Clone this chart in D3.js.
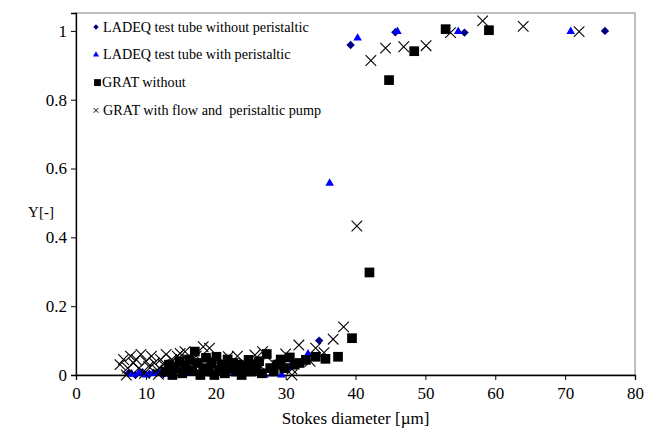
<!DOCTYPE html>
<html>
<head>
<meta charset="utf-8">
<script src="https://cdn.jsdelivr.net/npm/d3@7"></script>
<style>
  body { margin: 0; background: #fff; }
  svg text { font-family: "Liberation Serif", "DejaVu Serif", serif !important; fill: #000; }
</style>
</head>
<body>
<div id="chart"></div>
<script>
// series: [Stokes diameter, Y]
var ladeqWithout = [
  [7.5,0.005],[8.5,0.0],[9.5,0.008],[10.5,0.003],[11.5,0.006],[12.5,0.002],[13.5,0.008],
  [15,0.01],[17,0.012],[19,0.008],[21,0.005],[23,0.01],[24.4,0.01],[26,0.012],[28,0.015],
  [30.6,0.024],[31.3,0.034],[32.5,0.04],[34.8,0.10],[39.3,0.959],[45.7,0.996],[55.6,0.995],[75.7,1.0]
];
var ladeqWith = [
  [8,0.002],[9,0.006],[10,0.0],[11,0.004],[12,0.008],[13,0.003],[14,0.005],[16,0.004],
  [18,0.006],[20,0.004],[22,0.008],[24,0.01],[25.5,0.015],[27,0.0],[29.4,0.0],[31,0.025],
  [33.2,0.061],[36.3,0.557],[40.3,0.979],[46,0.998],[54.7,0.998],[70.8,0.998]
];
var gratWithout = [
  [12.8,0.01],[13.3,0.03],[13.8,0.0],[14.3,0.02],[14.8,0.04],[15.2,0.005],[15.7,0.025],[16.2,0.045],
  [16.6,0.012],[17,0.068],[17.4,0.035],[17.8,0.0],[18.2,0.02],[18.6,0.05],[19,0.01],[19.4,0.035],
  [19.8,0.0],[20.1,0.053],[20.5,0.015],[20.9,0.03],[21.3,0.005],[21.7,0.045],[22.1,0.02],[22.5,0.035],
  [22.9,0.01],[23.3,0.03],[23.7,0.0],[24.1,0.025],[24.7,0.044],[25,0.01],[25.4,0.03],[25.8,0.015],
  [26.2,0.04],[26.6,0.005],[27.3,0.061],[27.8,0.02],[28.3,0.01],[28.8,0.03],[29.3,0.045],[29.8,0.02],
  [30.6,0.051],[31.3,0.03],[32,0.035],[32.9,0.044],[34.3,0.053],[35.7,0.047],[37.5,0.053],
  [39.5,0.107],[42,0.298],[44.8,0.857],[48.4,0.941],[52.9,1.005],[59.1,1.002]
];
var gratFlow = [
  [6.3,0.03],[6.8,0.045],[7.2,0.0],[7.4,0.02],[7.8,0.055],[8.2,0.035],[8.6,0.045],[9,0.02],
  [9.3,0.06],[9.8,0.005],[10,0.04],[10.4,0.025],[10.8,0.055],[11.2,0.035],[11.6,0.015],[11.8,0.002],
  [12.1,0.045],[12.5,0.03],[12.9,0.06],[13.3,0.02],[13.7,0.045],[14.1,0.03],[14.5,0.055],[14.9,0.063],
  [15.3,0.035],[15.6,0.068],[16,0.045],[16.6,0.03],[17.2,0.055],[18.2,0.082],[19.1,0.078],[19.6,0.045],
  [20.4,0.03],[21,0.04],[21.8,0.053],[22.4,0.03],[23.1,0.055],[24,0.035],[25.6,0.058],[26.2,0.03],
  [26.7,0.068],[28.2,0.036],[29,0.02],[30,0.061],[30.9,0.017],[30.9,0.0],[31.9,0.087],[33.5,0.04],
  [34.3,0.078],[35.5,0.065],[36.8,0.104],[38.3,0.14],[40.2,0.433],[42.2,0.914],[44.3,0.95],
  [46.9,0.954],[50.1,0.957],[53.6,0.995],[58.2,1.029],[64,1.013],[72,0.998]
];
var xTicks = [0,10,20,30,40,50,60,70,80];
var yTicks = [0,0.2,0.4,0.6,0.8,1];
var legendLabels = [
  "LADEQ test tube without peristaltic",
  "LADEQ test tube with peristaltic",
  "GRAT without",
  "GRAT with flow and  peristaltic pump"
];

var width = 648, height = 430;
var margin = {top: 13, right: 13, bottom: 55, left: 76};
var w = width - margin.left - margin.right;
var h = height - margin.top - margin.bottom;

var svg = d3.select('#chart').append('svg')
    .attr('width', width)
    .attr('height', height);
var g = svg.append('g').attr('transform', 'translate(' + margin.left + ',' + margin.top + ')');

var x = d3.scaleLinear().domain([0, 80]).range([0, w]);
var y = d3.scaleLinear().domain([0, 1.052]).range([h, 0]);

// plot area frame (grey top/right)
g.append('rect')
    .attr('x', 0).attr('y', 0).attr('width', w).attr('height', h)
    .attr('fill', 'none').attr('stroke', '#808080').attr('stroke-width', 1);

var xAxis = g.append('g')
    .attr('transform', 'translate(0,' + h + ')')
    .call(d3.axisBottom(x).tickValues(xTicks).tickSize(5).tickPadding(7).tickFormat(d3.format('d')));
var yAxis = g.append('g')
    .call(d3.axisLeft(y).tickValues(yTicks).tickSize(5).tickPadding(4).tickFormat(function(d){ return d === 0 ? '0' : d === 1 ? '1' : d3.format('.1f')(d); }));

[xAxis, yAxis].forEach(function(a){
    a.select('.domain').attr('stroke', '#000').attr('stroke-width', 1.3);
    a.selectAll('.tick line').attr('stroke', '#000');
    a.selectAll('.tick text').attr('font-size', 17);
});

svg.append('text')
    .attr('x', margin.left + x(40)).attr('y', 424)
    .attr('text-anchor', 'middle').attr('font-size', 17)
    .text('Stokes diameter [µm]');
svg.append('text')
    .attr('x', 41).attr('y', 217)
    .attr('text-anchor', 'middle').attr('font-size', 15)
    .text('Y[-]');

var symDiamond = d3.symbol().type(d3.symbolDiamond2);
var symTri = d3.symbol().type(d3.symbolTriangle);
var symSquare = d3.symbol().type(d3.symbolSquare2);
var symX = d3.symbol().type(d3.symbolX);

function plot(data, sym, size, fill, stroke) {
    g.append('g').selectAll('path').data(data).enter().append('path')
        .attr('transform', function(d){ return 'translate(' + x(d[0]) + ',' + y(d[1]) + ')'; })
        .attr('d', sym.size(size)())
        .attr('fill', fill)
        .attr('stroke', stroke)
        .attr('stroke-width', stroke === 'none' ? 0 : 1.1);
}

plot(ladeqWithout, symDiamond, 45, '#000080', 'none');
plot(ladeqWith, symTri, 32, '#0000ff', 'none');
plot(gratWithout, symSquare, 120, '#000', 'none');
plot(gratFlow, symX, 75, 'none', '#000');

// legend
var legend = svg.append('g');
var legendSyms = [
  {sym: symDiamond, size: 18, fill: '#000080', stroke: 'none'},
  {sym: symTri, size: 16, fill: '#0000ff', stroke: 'none'},
  {sym: symSquare, size: 60, fill: '#000', stroke: 'none'},
  {sym: symX, size: 16, fill: 'none', stroke: '#000'}
];
legendLabels.forEach(function(lab, i){
    var ly = 27 + i * 27.8;
    var s = legendSyms[i];
    legend.append('path')
        .attr('transform', 'translate(' + (i === 2 ? 97.5 : 96) + ',' + ly + ')')
        .attr('d', s.sym.size(s.size)())
        .attr('fill', s.fill).attr('stroke', s.stroke).attr('stroke-width', 1);
    legend.append('text')
        .attr('x', i === 2 ? 102 : 103).attr('y', ly + 4.5)
        .attr('font-size', 14.2)
        .attr('xml:space', 'preserve')
        .style('white-space', 'pre')
        .text(lab);
});
</script>
</body>
</html>
